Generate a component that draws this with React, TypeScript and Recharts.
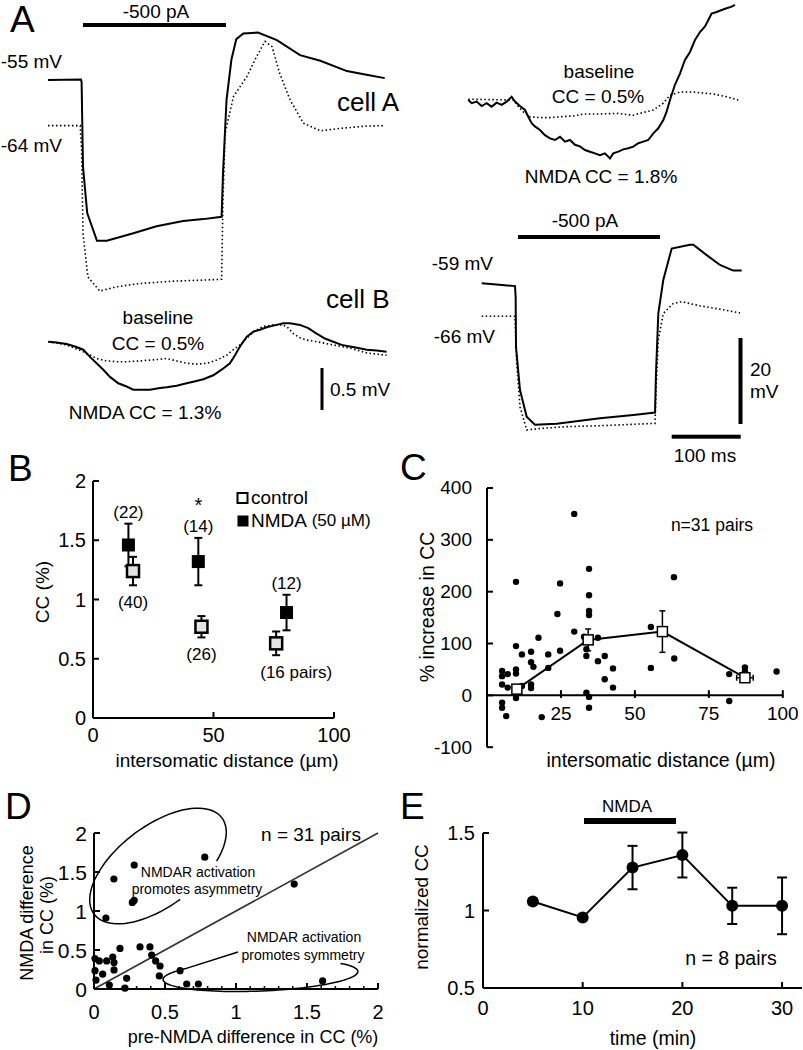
import React from "react";
import {
  LineChart,
  Line,
  XAxis,
  YAxis,
  ScatterChart,
  Scatter,
  ErrorBar,
  ReferenceLine,
} from "recharts";

const FONT = "'Liberation Sans', Arial, Helvetica, sans-serif";
const INK = "#000";

// ---- A: membrane potential traces, [time (ms), Vm (mV)] ----
const CELL_A_NMDA = [
  [0, -55], [47, -54.9], [48, -55.4], [50, -73.4], [56, -83.3], [70, -89.2], [84, -89.2],
  [122, -87.6], [155, -86.1], [193, -85], [222, -84.6], [248, -84.1], [250, -74.9],
  [255, -59.3], [262, -50.7], [269, -46.3], [279, -45.1], [300, -44.9], [327, -46.5],
  [360, -49.7], [389, -50.9], [427, -53.1], [455, -53.9], [481, -54.6],
];
const CELL_A_BASE = [
  [0, -64.7], [46, -64.7], [48, -69.9], [50, -87.6], [57, -96.9], [74, -99.9], [98, -99],
  [131, -98.3], [179, -97.8], [217, -97.6], [248, -97.4], [250, -80.5], [253, -66.3],
  [265, -58.5], [284, -54.3], [298, -50], [310, -46.8], [320, -47.9], [331, -53.6],
  [346, -59.3], [365, -64.2], [389, -65.8], [417, -65.3], [455, -64.8], [481, -64.7],
];
const CELL_B_NMDA = [
  [0, -59], [25, -59.3], [47.6, -59.6], [48.5, -62], [49, -72.5], [54.7, -81.7], [64.3, -87.4],
  [76, -89.1], [107, -88.9], [169, -87.7], [216.6, -87], [247.6, -86.5], [249, -78.1],
  [252.3, -65.4], [259.4, -58.3], [271.4, -51.6], [297.6, -50.8], [302.3, -50.8],
  [321.4, -53], [340.4, -55.1], [359.4, -56.3], [371.4, -56.3],
];
const CELL_B_BASE = [
  [0, -66], [47.6, -66], [50, -76], [54.7, -85.3], [64.3, -90.2], [83.3, -89.9], [121, -89.5],
  [169, -89.3], [247.6, -88.8], [249, -81.7], [252.3, -71.1], [259.4, -65.4], [273.7, -63.3],
  [285.7, -62.9], [311.9, -63.8], [340.4, -64.5], [369, -65.3],
];
// coupled responses in the partner cell, mV relative to rest
const COUPLED_TR_NMDA = [
  [0, 0], [4.8, -0.04], [11.9, -0.02], [19, -0.075], [26.2, -0.04], [33.3, -0.083], [40.5, -0.033],
  [47.6, -0.06], [54.8, -0.02], [61.9, 0.04], [66.7, -0.02], [73.8, -0.075], [81, -0.125],
  [85.7, -0.21], [90.5, -0.29], [95.2, -0.33], [102.4, -0.375], [109.5, -0.44], [116.7, -0.48],
  [123.8, -0.5], [131, -0.46], [138.1, -0.52], [145.2, -0.5], [152.4, -0.56], [159.5, -0.58],
  [166.7, -0.625], [173.8, -0.646], [181, -0.667], [188.1, -0.69], [195.2, -0.667], [202.4, -0.73],
  [207.1, -0.667], [214.3, -0.646], [221.4, -0.617], [228.6, -0.604], [235.7, -0.583],
  [242.9, -0.54], [250, -0.52], [257.1, -0.5], [264.3, -0.417], [271.4, -0.354], [278.6, -0.25],
  [283.3, -0.146], [288.1, 0], [295.2, 0.19], [302.4, 0.33], [309.5, 0.5], [316.7, 0.6],
  [323.8, 0.75], [331, 0.85], [338.1, 0.92], [342.9, 1.0], [347.6, 1.08], [354.8, 1.1],
  [361.9, 1.125], [369, 1.146], [376.2, 1.167], [381, 1.19],
];
const COUPLED_TR_BASE = [
  [0, 0.01], [64.3, 0], [71.4, -0.08], [78.6, -0.15], [88.1, -0.21], [102.4, -0.22], [116.7, -0.22],
  [131, -0.21], [150, -0.2], [164.3, -0.175], [188.1, -0.175], [211.9, -0.167], [235.7, -0.19],
  [245.2, -0.167], [264.3, -0.125], [278.6, -0.04], [288.1, 0.06], [302.4, 0.1], [321.4, 0.1],
  [350, 0.075], [369, 0.04], [385.7, 0],
];
const COUPLED_BL_NMDA = [
  [0, 0], [11.9, -0.01], [26.2, -0.03], [38.1, -0.06], [50, -0.1], [59.5, -0.19], [69, -0.27],
  [78.6, -0.35], [88.1, -0.44], [100, -0.52], [111.9, -0.56], [121.4, -0.6], [131, -0.6],
  [145.2, -0.6], [159.5, -0.58], [169, -0.57], [183.3, -0.55], [197.6, -0.52], [207.1, -0.5],
  [221.4, -0.47], [235.7, -0.42], [247.6, -0.35], [259.5, -0.27], [266.7, -0.17], [273.8, -0.06],
  [283.3, 0.06], [292.9, 0.125], [302.4, 0.15], [311.9, 0.18], [326.2, 0.21], [335.7, 0.23],
  [345.2, 0.23], [359.5, 0.21], [371.4, 0.17], [383.3, 0.1], [395.2, 0.04], [407.1, 0],
  [419, -0.04], [431, -0.06], [442.9, -0.08], [454.8, -0.1], [469, -0.11], [483.3, -0.125],
];
const COUPLED_BL_BASE = [
  [0, 0], [26.2, -0.04], [50, -0.125], [69, -0.21], [83.3, -0.24], [97.6, -0.25], [111.9, -0.25],
  [131, -0.24], [145.2, -0.23], [159.5, -0.22], [169, -0.21], [178.6, -0.23], [188.1, -0.25],
  [197.6, -0.27], [211.9, -0.28], [226.2, -0.27], [240.5, -0.23], [254.8, -0.17], [264.3, -0.1],
  [273.8, -0.04], [283.3, 0.04], [292.9, 0.125], [307.1, 0.19], [321.4, 0.21], [335.7, 0.21],
  [342.9, 0.17], [350, 0.1], [359.5, 0.05], [369, 0.02], [383.3, 0], [407.1, -0.04],
  [431, -0.08], [454.8, -0.14], [483.3, -0.17],
];

// ---- B: CC vs distance ----
const B_DIST_CTRL = [16.6, 45, 76];
const B_CC_CTRL = [1.24, 0.77, 0.63];
const B_SEM_CTRL = [0.12, 0.09, 0.1];
const B_N_CTRL = ["(40)", "(26)", "(16 pairs)"];
const B_DIST_NMDA = [14.7, 43.7, 80.3];
const B_CC_NMDA = [1.46, 1.32, 0.89];
const B_SEM_NMDA = [0.18, 0.2, 0.15];
const B_N_NMDA = ["(22)", "(14)", "(12)"];
const B_XTICKS = [0, 50, 100];
const B_YTICKS = [0, 0.5, 1, 1.5, 2];

// ---- C: % increase per pair, [distance um, % increase] ----
const C_PAIRS = [
  [9.8, 219], [24.7, 216], [34.5, 244], [34.5, 193], [34.5, 163], [34.5, 155], [23.8, 157],
  [29.5, 123], [32.8, 113], [17.4, 111], [9.8, 95], [11.8, 79], [14.9, 84], [24.7, 86],
  [20.7, 79], [14.9, 64], [15.7, 55], [20.7, 53], [5.1, 47], [5.1, 37], [7, 41], [9.8, 50],
  [9.8, 42], [5.1, 21], [7, 15], [11.8, 18], [14.9, 21], [14.9, 14], [33.6, 89], [33.6, 76],
  [37.5, 66], [39.8, 76], [39.8, 31], [33.6, 5], [34.5, -3], [34.5, -24], [9.8, -5], [5.1, -14],
  [5.1, -24], [6.5, -40], [18.5, -42], [37.5, 111], [42.6, 52], [42.6, 15], [55.4, 132],
  [55.4, 53], [29.5, 350], [63.2, 228], [63.3, 71], [81.9, 41], [81.9, -11], [87.2, 54],
  [87.2, 46], [97.9, 46],
];
const C_MEAN_X = [10.1, 34.2, 59.3, 87.2];
const C_MEAN_Y = [12, 107, 123, 34];
const C_SEM_Y = [0, 21, 40, 0];
const C_SEM_X = [0, 1, 1.2, 2.8];
const C_XTICKS = [25, 50, 75, 100];
const C_YTICKS = [-100, 0, 100, 200, 300, 400];

// ---- D: asymmetry, [pre-NMDA diff, NMDA diff] ----
const D_PAIRS = [
  [0.084, 0.91], [0.14, 1.41], [0.283, 1.59], [0.27, 1.11], [0.283, 1.135], [0.78, 1.69],
  [1.41, 1.345], [1.61, 0.103], [0.606, 0.235], [0.653, 0.064], [0.735, 0.064], [0.324, 0.54],
  [0.394, 0.54], [0.406, 0.435], [0.434, 0.36], [0.465, 0.295], [0.46, 0.167], [0.183, 0.52],
  [0.037, 0.36], [0.089, 0.36], [0.132, 0.41], [0.141, 0.34], [0.141, 0.245], [0.061, 0.19],
  [0.007, 0.235], [0.014, 0.115], [0.23, 0.137], [0.108, 0.05], [0.218, 0.01], [0.007, 0.39],
];
const D_XTICKS = [0, 0.1, 0.2, 0.3, 0.4, 0.5, 0.6, 0.7, 0.8, 0.9, 1, 1.1, 1.2, 1.3, 1.4, 1.5, 1.6, 1.7, 1.8, 1.9, 2];
const D_YTICKS = [0, 0.5, 1, 1.5, 2];

// ---- E: time course ----
const E_TIME = [5, 10, 15, 20, 25, 30];
const E_CC = [1.058, 0.955, 1.277, 1.358, 1.03, 1.03];
const E_SEM = [0, 0, 0.14, 0.145, 0.117, 0.183];
const E_XTICKS = [0, 10, 20, 30];
const E_YTICKS = [0.5, 1, 1.5];

// plot rectangles (page pixels)
const PB = { x0: 93, x1: 334, y0: 481, y1: 718 };
const PC = { x0: 486.5, x1: 782.3, y0: 487.5, y1: 746.7 };
const PD = { x0: 94, x1: 378, y0: 833, y1: 989 };
const PE = { x0: 483, x1: 802, y0: 833.3, y1: 988.3 };

const lin = (d0: number, d1: number, r0: number, r1: number) => (v: number) =>
  r0 + ((v - d0) / (d1 - d0)) * (r1 - r0);
const bx = lin(0, 100, PB.x0, PB.x1);
const by = lin(0, 2, PB.y1, PB.y0);

function frame(p: { x0: number; x1: number; y0: number; y1: number }, hideX = false) {
  return {
    style: { position: "absolute" as const, left: p.x0 - 60, top: p.y0 - 20 },
    width: p.x1 - p.x0 + 80,
    height: p.y1 - p.y0 + 70,
    margin: { top: 20, right: 20, left: 0, bottom: hideX ? 50 : 0 },
  };
}

const axisLine = { stroke: INK, strokeWidth: 2 };

const leftTick = (gap: number, len = 6, size = 20) => (p: any) => (
  <g>
    <line x1={p.x} y1={p.y} x2={p.x + len} y2={p.y} stroke={INK} strokeWidth={2} />
    <text x={p.x - gap} y={p.y} textAnchor="end" dominantBaseline="central" fontSize={size} fontFamily={FONT} fill={INK}>
      {p.payload.value}
    </text>
  </g>
);

const isHalf = (v: number) => Math.abs(v * 2 - Math.round(v * 2)) < 1e-6;

const bottomTick = (gap: number, major: (v: number) => boolean = () => true, len = 6, size = 20) => (p: any) => {
  const v = p.payload.value;
  const big = major(v);
  return (
    <g>
      <line x1={p.x} y1={p.y} x2={p.x} y2={p.y - (big ? len : len / 2)} stroke={INK} strokeWidth={big ? 2 : 1.5} />
      {big && (
        <text x={p.x} y={p.y + gap} textAnchor="middle" dominantBaseline="central" fontSize={size} fontFamily={FONT} fill={INK}>
          {v}
        </text>
      )}
    </g>
  );
};

const dot = (r: number) => (p: any) => <circle cx={p.cx} cy={p.cy} r={r} fill={INK} />;
const square = (s: number, fill: string, sw: number) => (p: any) => (
  <rect x={p.cx - s / 2} y={p.cy - s / 2} width={s} height={s} fill={fill} stroke={INK} strokeWidth={sw} />
);

const pts = (a: number[][]) => a.map(([t, v]) => ({ t, v }));

type Box = { left: number; top: number; width: number; height: number };
type Anchor = { px: number; py: number; v0: number; msPx: number; mvPx: number };

function Trace({ box, anchor, solid, dotted }: { box: Box; anchor: Anchor; solid: number[][]; dotted: number[][] }) {
  const xd = [(box.left - anchor.px) / anchor.msPx, (box.left + box.width - anchor.px) / anchor.msPx];
  const yd = [
    anchor.v0 - (box.top + box.height - anchor.py) / anchor.mvPx,
    anchor.v0 + (anchor.py - box.top) / anchor.mvPx,
  ];
  return (
    <div style={{ position: "absolute", left: box.left, top: box.top }}>
      <LineChart width={box.width} height={box.height} margin={{ top: 0, right: 0, bottom: 0, left: 0 }}>
        <XAxis type="number" dataKey="t" domain={xd} allowDataOverflow hide />
        <YAxis type="number" dataKey="v" domain={yd} allowDataOverflow hide />
        <Line data={pts(dotted)} dataKey="v" type="linear" stroke={INK} strokeWidth={1.6} strokeDasharray="1.5 2.5" dot={false} isAnimationActive={false} />
        <Line data={pts(solid)} dataKey="v" type="linear" stroke={INK} strokeWidth={2} dot={false} isAnimationActive={false} />
      </LineChart>
    </div>
  );
}

function Txt({ x, y, s = 19, a = "middle", r, children }: any) {
  return (
    <text
      x={x}
      y={y}
      fontSize={s}
      textAnchor={a}
      dominantBaseline="central"
      fontFamily={FONT}
      fill={INK}
      transform={r ? `rotate(${r} ${x} ${y})` : undefined}
    >
      {children}
    </text>
  );
}

function ellArc(cx: number, cy: number, a: number, b: number, deg: number, t0: number, t1: number, n = 80) {
  const th = (deg * Math.PI) / 180;
  const c = Math.cos(th);
  const s = Math.sin(th);
  let d = "";
  for (let i = 0; i <= n; i++) {
    const t = t0 + ((t1 - t0) * i) / n;
    const ex = a * Math.cos(t);
    const ey = b * Math.sin(t);
    d += (i ? "L" : "M") + (cx + ex * c - ey * s).toFixed(1) + "," + (cy + ex * s + ey * c).toFixed(1);
  }
  return d;
}

export default function App() {
  const ctrl = B_DIST_CTRL.map((x, i) => ({ x, y: B_CC_CTRL[i], e: B_SEM_CTRL[i] }));
  const nmda = B_DIST_NMDA.map((x, i) => ({ x, y: B_CC_NMDA[i], e: B_SEM_NMDA[i] }));
  const cPairs = C_PAIRS.map(([x, y]) => ({ x, y }));
  const cMean = C_MEAN_X.map((x, i) => ({ x, y: C_MEAN_Y[i], ey: C_SEM_Y[i], ex: C_SEM_X[i] }));
  const dPairs = D_PAIRS.map(([x, y]) => ({ x, y }));
  const eData = E_TIME.map((x, i) => ({ x, y: E_CC[i], e: E_SEM[i] }));

  const fB = frame(PB);
  const fC = frame(PC, true);
  const fD = frame(PD);
  const fE = frame(PE);

  return (
    <div style={{ position: "absolute", left: 0, top: 0, width: 803, height: 1050, overflow: "hidden", background: "#fff", fontFamily: FONT }}>
      {/* A traces */}
      <Trace box={{ left: 40, top: 20, width: 360, height: 285 }} anchor={{ px: 48, py: 80, v0: -55, msPx: 0.7, mvPx: 4.7 }} solid={CELL_A_NMDA} dotted={CELL_A_BASE} />
      <Trace box={{ left: 470, top: 225, width: 290, height: 225 }} anchor={{ px: 481.7, py: 283.3, v0: -59, msPx: 0.7, mvPx: 4.7 }} solid={CELL_B_NMDA} dotted={CELL_B_BASE} />
      <Trace box={{ left: 460, top: 0, width: 300, height: 170 }} anchor={{ px: 468.3, py: 100, v0: 0, msPx: 0.7, mvPx: 80 }} solid={COUPLED_TR_NMDA} dotted={COUPLED_TR_BASE} />
      <Trace box={{ left: 40, top: 305, width: 360, height: 100 }} anchor={{ px: 48.3, py: 341.7, v0: 0, msPx: 0.7, mvPx: 80 }} solid={COUPLED_BL_NMDA} dotted={COUPLED_BL_BASE} />

      {/* B */}
      <div style={fB.style}>
        <ScatterChart width={fB.width} height={fB.height} margin={fB.margin}>
          <XAxis type="number" dataKey="x" domain={[0, 100]} ticks={B_XTICKS} interval={0} height={50} tickSize={0} tickMargin={0} axisLine={axisLine} tickLine={false} tick={bottomTick(17)} />
          <YAxis type="number" dataKey="y" domain={[0, 2]} ticks={B_YTICKS} interval={0} width={60} tickSize={0} tickMargin={0} axisLine={axisLine} tickLine={false} tick={leftTick(7)} />
          <Scatter data={ctrl} shape={square(12, "#e4e4e4", 2.5)} isAnimationActive={false}>
            <ErrorBar dataKey="e" direction="y" width={4} stroke={INK} strokeWidth={2} />
          </Scatter>
          <Scatter data={nmda} shape={square(13, INK, 0)} isAnimationActive={false}>
            <ErrorBar dataKey="e" direction="y" width={4} stroke={INK} strokeWidth={2} />
          </Scatter>
        </ScatterChart>
      </div>

      {/* C */}
      <div style={fC.style}>
        <ScatterChart width={fC.width} height={fC.height} margin={fC.margin}>
          <XAxis type="number" dataKey="x" domain={[0, 100]} hide />
          <YAxis type="number" dataKey="y" domain={[-100, 400]} ticks={C_YTICKS} interval={0} width={60} tickSize={0} tickMargin={0} axisLine={axisLine} tickLine={false} tick={leftTick(15, 6, 19)} />
          <ReferenceLine segment={[{ x: 0, y: 0 }, { x: 100, y: 0 }]} stroke={INK} strokeWidth={2} />
          {C_XTICKS.map((t) => (
            <ReferenceLine
              key={t}
              segment={[{ x: t, y: -5 }, { x: t, y: 10 }]}
              stroke={INK}
              strokeWidth={2}
              label={{ value: String(t), position: "bottom", offset: 9, fontSize: 19, fill: INK, fontFamily: FONT }}
            />
          ))}
          <Scatter data={cPairs} shape={dot(3.2)} isAnimationActive={false} />
          <Scatter data={cMean} shape={square(10, "#fff", 1.5)} line={{ stroke: INK, strokeWidth: 2 }} lineType="joint" isAnimationActive={false}>
            <ErrorBar dataKey="ey" direction="y" width={3} stroke={INK} strokeWidth={1.5} />
            <ErrorBar dataKey="ex" direction="x" width={3} stroke={INK} strokeWidth={1.5} />
          </Scatter>
        </ScatterChart>
      </div>

      {/* D */}
      <div style={fD.style}>
        <ScatterChart width={fD.width} height={fD.height} margin={fD.margin}>
          <XAxis type="number" dataKey="x" domain={[0, 2]} ticks={D_XTICKS} interval={0} height={50} tickSize={0} tickMargin={0} axisLine={axisLine} tickLine={false} tick={bottomTick(23, isHalf, 6, 20)} />
          <YAxis type="number" dataKey="y" domain={[0, 2]} ticks={D_YTICKS} interval={0} width={60} tickSize={0} tickMargin={0} axisLine={axisLine} tickLine={false} tick={leftTick(7, 6, 21)} />
          <ReferenceLine segment={[{ x: 0, y: 0 }, { x: 2, y: 2 }]} stroke="#333" strokeWidth={1.6} />
          <Scatter data={dPairs} shape={dot(3.6)} isAnimationActive={false} />
        </ScatterChart>
      </div>

      {/* E */}
      <div style={fE.style}>
        <ScatterChart width={fE.width} height={fE.height} margin={fE.margin}>
          <XAxis type="number" dataKey="x" domain={[0, 32]} ticks={E_XTICKS} interval={0} height={50} tickSize={0} tickMargin={0} axisLine={axisLine} tickLine={false} tick={bottomTick(20)} />
          <YAxis type="number" dataKey="y" domain={[0.5, 1.5]} allowDataOverflow ticks={E_YTICKS} interval={0} width={60} tickSize={0} tickMargin={0} axisLine={axisLine} tickLine={false} tick={leftTick(8)} />
          <Scatter data={eData} shape={dot(6)} line={{ stroke: INK, strokeWidth: 2 }} lineType="joint" isAnimationActive={false}>
            <ErrorBar dataKey="e" direction="y" width={5} stroke={INK} strokeWidth={2} />
          </Scatter>
        </ScatterChart>
      </div>

      {/* annotations */}
      <svg width={803} height={1050} style={{ position: "absolute", left: 0, top: 0, pointerEvents: "none" }}>
        {/* panel letters */}
        <Txt x={10} y={19} s={37} a="start">A</Txt>
        <Txt x={8} y={468} s={37} a="start">B</Txt>
        <Txt x={400} y={467} s={37} a="start">C</Txt>
        <Txt x={5} y={806} s={37} a="start">D</Txt>
        <Txt x={400} y={806} s={37} a="start">E</Txt>

        {/* A */}
        <Txt x={156} y={11}>-500 pA</Txt>
        <rect x={83} y={23} width={143} height={4} fill={INK} />
        <Txt x={62} y={61} a="end">-55 mV</Txt>
        <Txt x={62} y={145} a="end">-64 mV</Txt>
        <Txt x={337} y={102} s={26} a="start">cell A</Txt>
        <Txt x={599} y={71}>baseline</Txt>
        <Txt x={598} y={96}>CC = 0.5%</Txt>
        <Txt x={601} y={176}>NMDA CC = 1.8%</Txt>
        <Txt x={585} y={220}>-500 pA</Txt>
        <rect x={518} y={235} width={142} height={4} fill={INK} />
        <Txt x={493} y={263} a="end">-59 mV</Txt>
        <Txt x={495} y={336} a="end">-66 mV</Txt>
        <Txt x={326} y={299} s={26} a="start">cell B</Txt>
        <Txt x={158} y={317}>baseline</Txt>
        <Txt x={158} y={343}>CC = 0.5%</Txt>
        <Txt x={145} y={412}>NMDA CC = 1.3%</Txt>
        <rect x={320.5} y={368} width={3} height={42} fill={INK} />
        <Txt x={330} y={389} a="start">0.5 mV</Txt>
        <rect x={738.5} y={338} width={4} height={86} fill={INK} />
        <Txt x={750} y={369} a="start">20</Txt>
        <Txt x={750} y={391} a="start">mV</Txt>
        <rect x={671.7} y={434.7} width={69} height={4} fill={INK} />
        <Txt x={705} y={455}>100 ms</Txt>

        {/* B */}
        {B_N_NMDA.map((s, i) => (
          <Txt key={s} x={bx(B_DIST_NMDA[i])} y={by(B_CC_NMDA[i] + B_SEM_NMDA[i]) - 11} s={17}>{s}</Txt>
        ))}
        {B_N_CTRL.map((s, i) => (
          <Txt key={s} x={bx(B_DIST_CTRL[i]) + (i === 2 ? 20 : 0)} y={by(B_CC_CTRL[i] - B_SEM_CTRL[i]) + 17} s={17}>{s}</Txt>
        ))}
        <Txt x={bx(B_DIST_NMDA[1])} y={by(B_CC_NMDA[1] + B_SEM_NMDA[1]) - 33} s={20}>*</Txt>
        <rect x={237.5} y={493} width={10} height={10} fill="#fff" stroke={INK} strokeWidth={2} />
        <Txt x={251} y={497} a="start">control</Txt>
        <rect x={237.5} y={515.5} width={11} height={11} fill={INK} />
        <text x={251} y={520} fontSize={19} fontFamily={FONT} dominantBaseline="central" fill={INK}>
          NMDA<tspan fontSize={17}> (50 µM)</tspan>
        </text>
        <Txt x={42} y={592} r={-90}>CC (%)</Txt>
        <Txt x={227} y={760}>intersomatic distance (µm)</Txt>

        {/* C */}
        <Txt x={712} y={525} s={17.5}>n=31 pairs</Txt>
        <Txt x={427} y={607} s={19.5} r={-90}>% increase in CC</Txt>
        <Txt x={661} y={760} s={19.5}>intersomatic distance (µm)</Txt>

        {/* D */}
        <Txt x={311} y={834}>n = 31 pairs</Txt>
        <Txt x={27} y={913} s={18} r={-90}>NMDA difference</Txt>
        <Txt x={47} y={915} s={18} r={-90}>in CC (%)</Txt>
        <Txt x={253} y={1037} s={18}>pre-NMDA difference in CC (%)</Txt>
        <Txt x={198} y={872} s={14}>NMDAR activation</Txt>
        <Txt x={197} y={889} s={14}>promotes asymmetry</Txt>
        <Txt x={304} y={937} s={14}>NMDAR activation</Txt>
        <Txt x={303} y={955} s={14}>promotes symmetry</Txt>
        <path d={ellArc(158, 866, 80, 40, -37, 1.6, 0.9 + 2 * Math.PI)} fill="none" stroke={INK} strokeWidth={1.5} />
        <path d={ellArc(260.5, 975.5, 97.5, 15.5, -2.4, -0.6, Math.PI + 0.7) + "L238,952"} fill="none" stroke={INK} strokeWidth={1.5} />

        {/* E */}
        <Txt x={627} y={806} s={17}>NMDA</Txt>
        <rect x={584} y={818} width={92} height={6} fill={INK} />
        <Txt x={731} y={958} s={19.5}>n = 8 pairs</Txt>
        <Txt x={421} y={907} r={-90}>normalized CC</Txt>
        <Txt x={653} y={1038} s={19.5}>time (min)</Txt>
      </svg>
    </div>
  );
}
